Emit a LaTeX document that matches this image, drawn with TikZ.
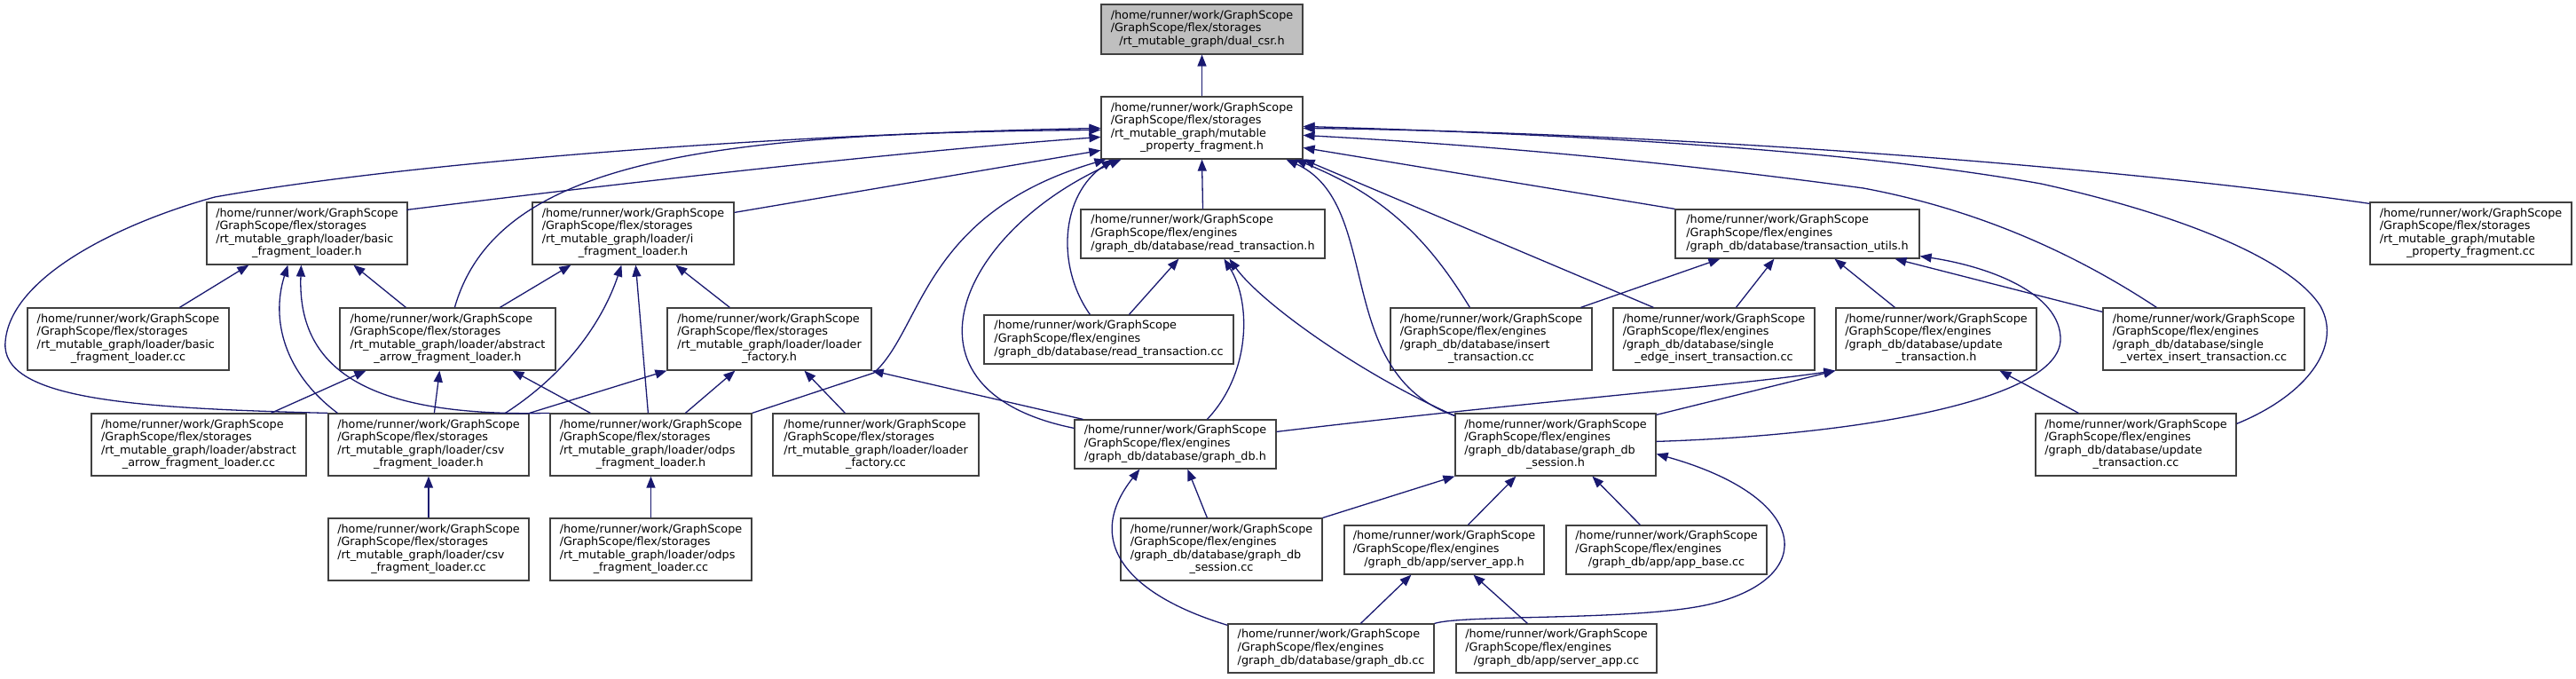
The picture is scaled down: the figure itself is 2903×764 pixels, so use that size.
\documentclass[tikz,border=0pt]{standalone}
\usepackage{fontspec}
\setmainfont{DejaVu Sans}
\usetikzlibrary{arrows.meta,calc}
\definecolor{edgecol}{RGB}{25,25,112}
\newcommand\Hm{/home/runner/work/GraphScope}
\newcommand\Sto{/GraphScope/flex/storages}
\newcommand\Eng{/GraphScope/flex/engines}
\newcommand\tthree[3]{\begin{tabular}{@{}l@{}}#1\\#2\\\multicolumn{1}{@{}c@{}}{#3}\end{tabular}}
\newcommand\tfour[4]{\begin{tabular}{@{}l@{}}#1\\#2\\#3\\\multicolumn{1}{@{}c@{}}{#4}\end{tabular}}
\newcommand\bx[7][]{\node[box,#1,minimum width={#5-#3},minimum height={#6-#4}] (#2) at ({(#3+#5)/2},{(#4+#6)/2}) {#7};}
\tikzset{
  box/.style={draw=black!75, line width=1.2pt, fill=white, inner sep=0pt, rectangle,
    font=\fontsize{12.8pt}{14.6pt}\selectfont},
  edge/.style={draw=edgecol, line width=1.3pt, -{Triangle[length=13pt,width=10pt]}}
}
\begin{document}
\begin{tikzpicture}[x=1pt,y=-1pt]
\useasboundingbox (0,0) rectangle (2903,764);
% nodes
\bx[fill=black!25]{n0}{1241}{5}{1468}{61}{\tthree{\Hm}{\Sto}{/rt\_mutable\_graph/dual\_csr.h}}
\bx{n1}{1241}{109}{1468}{179}{\tfour{\Hm}{\Sto}{/rt\_mutable\_graph/mutable}{\_property\_fragment.h}}
\bx{bfl}{233}{228}{459}{298}{\tfour{\Hm}{\Sto}{/rt\_mutable\_graph/loader/basic}{\_fragment\_loader.h}}
\bx{ifl}{600}{228}{827}{298}{\tfour{\Hm}{\Sto}{/rt\_mutable\_graph/loader/i}{\_fragment\_loader.h}}
\bx{rth}{1218}{236}{1493}{291}{\tthree{\Hm}{\Eng}{/graph\_db/database/read\_transaction.h}}
\bx{tuh}{1888}{236}{2163}{291}{\tthree{\Hm}{\Eng}{/graph\_db/database/transaction\_utils.h}}
\bx{mpfcc}{2671}{228}{2898}{298}{\tfour{\Hm}{\Sto}{/rt\_mutable\_graph/mutable}{\_property\_fragment.cc}}
\bx{bflcc}{31}{347}{258}{417}{\tfour{\Hm}{\Sto}{/rt\_mutable\_graph/loader/basic}{\_fragment\_loader.cc}}
\bx{aah}{383}{347}{626}{417}{\tfour{\Hm}{\Sto}{/rt\_mutable\_graph/loader/abstract}{\_arrow\_fragment\_loader.h}}
\bx{lfh}{752}{347}{982}{417}{\tfour{\Hm}{\Sto}{/rt\_mutable\_graph/loader/loader}{\_factory.h}}
\bx{rtcc}{1109}{355}{1390}{410}{\tthree{\Hm}{\Eng}{/graph\_db/database/read\_transaction.cc}}
\bx{itcc}{1567}{347}{1794}{417}{\tfour{\Hm}{\Eng}{/graph\_db/database/insert}{\_transaction.cc}}
\bx{seicc}{1818}{347}{2045}{417}{\tfour{\Hm}{\Eng}{/graph\_db/database/single}{\_edge\_insert\_transaction.cc}}
\bx{uth}{2069}{347}{2295}{417}{\tfour{\Hm}{\Eng}{/graph\_db/database/update}{\_transaction.h}}
\bx{svicc}{2370}{347}{2597}{417}{\tfour{\Hm}{\Eng}{/graph\_db/database/single}{\_vertex\_insert\_transaction.cc}}
\bx{aacc}{103}{466}{345}{536}{\tfour{\Hm}{\Sto}{/rt\_mutable\_graph/loader/abstract}{\_arrow\_fragment\_loader.cc}}
\bx{csvh}{370}{466}{596}{536}{\tfour{\Hm}{\Sto}{/rt\_mutable\_graph/loader/csv}{\_fragment\_loader.h}}
\bx{odpsh}{620}{466}{847}{536}{\tfour{\Hm}{\Sto}{/rt\_mutable\_graph/loader/odps}{\_fragment\_loader.h}}
\bx{lfcc}{871}{466}{1103}{536}{\tfour{\Hm}{\Sto}{/rt\_mutable\_graph/loader/loader}{\_factory.cc}}
\bx{gdbh}{1211}{473}{1438}{528}{\tthree{\Hm}{\Eng}{/graph\_db/database/graph\_db.h}}
\bx{gdsh}{1640}{466}{1866}{536}{\tfour{\Hm}{\Eng}{/graph\_db/database/graph\_db}{\_session.h}}
\bx{utcc}{2294}{466}{2520}{536}{\tfour{\Hm}{\Eng}{/graph\_db/database/update}{\_transaction.cc}}
\bx{csvcc}{370}{584}{596}{654}{\tfour{\Hm}{\Sto}{/rt\_mutable\_graph/loader/csv}{\_fragment\_loader.cc}}
\bx{odpscc}{620}{584}{847}{654}{\tfour{\Hm}{\Sto}{/rt\_mutable\_graph/loader/odps}{\_fragment\_loader.cc}}
\bx{gdscc}{1263}{584}{1490}{654}{\tfour{\Hm}{\Eng}{/graph\_db/database/graph\_db}{\_session.cc}}
\bx{sah}{1515}{592}{1740}{647}{\tthree{\Hm}{\Eng}{/graph\_db/app/server\_app.h}}
\bx{abcc}{1765}{592}{1991}{647}{\tthree{\Hm}{\Eng}{/graph\_db/app/app\_base.cc}}
\bx{gdbcc}{1384}{703}{1616}{758}{\tthree{\Hm}{\Eng}{/graph\_db/database/graph\_db.cc}}
\bx{sacc}{1641}{703}{1867}{758}{\tthree{\Hm}{\Eng}{/graph\_db/app/server\_app.cc}}
% edges into n0, n1
\draw[edge] (n1.north) -- (n0.south);
\draw[edge] ($(bfl.north west)+(226,9)$) .. controls (750,200) and (1050,168) .. ($(n1.north west)+(0,46)$);
\draw[edge] ($(ifl.north east)+(0,12)$) -- ($(n1.north west)+(0,61)$);
\draw[edge] ($(aah.north west)+(130,0)$) .. controls (560,180) and (800,150) .. ($(n1.north west)+(0,38)$);
\draw[edge] (csvh.north west) .. controls (150,460) and (0,450) .. (6,385) .. controls (12,310) and (140,250) .. (242,222) .. controls (450,185) and (850,152) .. ($(n1.north west)+(0,36)$);
\draw[edge] (odpsh.north east) -- (985,420) .. controls (1040,370) and (1040,240) .. ($(n1.south west)+(6,0)$);
\draw[edge] ($(gdbh.north west)+(0,10)$) .. controls (1000,440) and (1080,260) .. ($(n1.south west)+(23,0)$);
\draw[edge] ($(rtcc.north west)+(120,0)$) .. controls (1190,300) and (1195,220) .. ($(n1.south west)+(14,0)$);
\draw[edge] (rth.north) -- (n1.south);
\draw[edge] ($(gdsh.north west)+(0,3)$) .. controls (1500,420) and (1560,230) .. ($(n1.south west)+(209,0)$);
\draw[edge] ($(itcc.north west)+(90,0)$) .. controls (1610,270) and (1560,220) .. ($(n1.south west)+(219,0)$);
\draw[edge] ($(seicc.north west)+(46,0)$) -- (n1.south east);
\draw[edge] (tuh.north west) -- ($(n1.north east)+(0,58)$);
\draw[edge] ($(svicc.north west)+(61,0)$) .. controls (2360,300) and (2250,240) .. (2100,212) .. controls (1900,185) and (1700,165) .. ($(n1.north east)+(0,44)$);
\draw[edge] ($(mpfcc.north west)+(0,2)$) .. controls (2400,190) and (1900,150) .. ($(n1.north east)+(0,36)$);
\draw[edge] ($(utcc.north east)+(0,12)$) .. controls (2600,445) and (2640,390) .. (2615,345) .. controls (2580,290) and (2450,240) .. (2300,207) .. controls (2150,180) and (1900,155) .. ($(n1.north east)+(0,34)$);
% loader area
\draw[edge] ($(bflcc.north west)+(172,0)$) -- ($(bfl.south west)+(48,0)$);
\draw[edge] ($(aah.north west)+(75,0)$) -- ($(bfl.south west)+(166,0)$);
\draw[edge] ($(csvh.north west)+(11,0)$) .. controls (320,420) and (305,360) .. ($(bfl.south west)+(92,0)$);
\draw[edge] (odpsh.north west) .. controls (420,470) and (335,420) .. ($(bfl.south west)+(107,0)$);
\draw[edge] ($(aah.north west)+(181,0)$) -- ($(ifl.south west)+(44,0)$);
\draw[edge] ($(csvh.north west)+(200,0)$) .. controls (640,420) and (680,360) .. ($(ifl.south west)+(101,0)$);
\draw[edge] ($(odpsh.north west)+(111,0)$) -- ($(ifl.south west)+(117,0)$);
\draw[edge] ($(lfh.north west)+(71,0)$) -- ($(ifl.south west)+(162,0)$);
\draw[edge] ($(aacc.north west)+(203,0)$) -- ($(aah.south west)+(30,0)$);
\draw[edge] ($(csvh.north west)+(120,0)$) -- ($(aah.south west)+(113,0)$);
\draw[edge] ($(odpsh.north west)+(46,0)$) -- ($(aah.south west)+(195,0)$);
\draw[edge] (csvh.north east) -- (lfh.south west);
\draw[edge] ($(odpsh.north west)+(153,0)$) -- ($(lfh.south west)+(77,0)$);
\draw[edge] ($(lfcc.north west)+(82,0)$) -- ($(lfh.south west)+(155,0)$);
\draw[edge] ($(gdbh.north west)+(10,0)$) -- (lfh.south east);
\draw[edge] (csvcc.north) -- (csvh.south);
\draw[edge] (odpscc.north) -- (odpsh.south);
% engines area
\draw[edge] ($(rtcc.north west)+(164,0)$) -- ($(rth.south west)+(111,0)$);
\draw[edge] ($(gdbh.north west)+(150,0)$) .. controls (1410,420) and (1410,340) .. ($(rth.south west)+(162,0)$);
\draw[edge] ($(gdsh.north west)+(0,3)$) .. controls (1530,420) and (1420,340) .. ($(rth.south west)+(168,0)$);
\draw[edge] ($(itcc.north west)+(215,0)$) -- ($(tuh.south west)+(51,0)$);
\draw[edge] ($(seicc.north west)+(139,0)$) -- ($(tuh.south west)+(112,0)$);
\draw[edge] ($(uth.north west)+(67,0)$) -- ($(tuh.south west)+(180,0)$);
\draw[edge] ($(svicc.north west)+(0,5)$) -- ($(tuh.south west)+(248,0)$);
\draw[edge] ($(gdsh.north east)+(0,32)$) .. controls (2100,490) and (2320,450) .. (2322,383) .. controls (2323,330) and (2240,300) .. ($(tuh.south east)+(0,-3)$);
\draw[edge] ($(gdbh.north east)+(0,14)$) .. controls (1700,455) and (1950,435) .. (uth.south west);
\draw[edge] ($(gdsh.north east)+(0,2)$) -- (uth.south west);
\draw[edge] ($(utcc.north west)+(49,0)$) -- ($(uth.south west)+(185,0)$);
\draw[edge] ($(gdbcc.north west)+(0,2)$) .. controls (1270,670) and (1220,610) .. ($(gdbh.south west)+(74,0)$);
\draw[edge] ($(gdscc.north west)+(98,0)$) -- ($(gdbh.south west)+(128,0)$);
\draw[edge] (gdscc.north east) -- (gdsh.south west);
\draw[edge] ($(sah.north west)+(140,0)$) -- ($(gdsh.south west)+(69,0)$);
\draw[edge] ($(abcc.north west)+(84,0)$) -- ($(gdsh.south west)+(155,0)$);
\draw[edge] (gdbcc.north east) .. controls (1650,692) and (1850,700) .. (1930,680) .. controls (2050,650) and (2040,560) .. ($(gdsh.north east)+(0,46)$);
\draw[edge] ($(gdbcc.north west)+(150,0)$) -- ($(sah.south west)+(76,0)$);
\draw[edge] ($(sacc.north west)+(81,0)$) -- ($(sah.south west)+(146,0)$);
\end{tikzpicture}
\end{document}
